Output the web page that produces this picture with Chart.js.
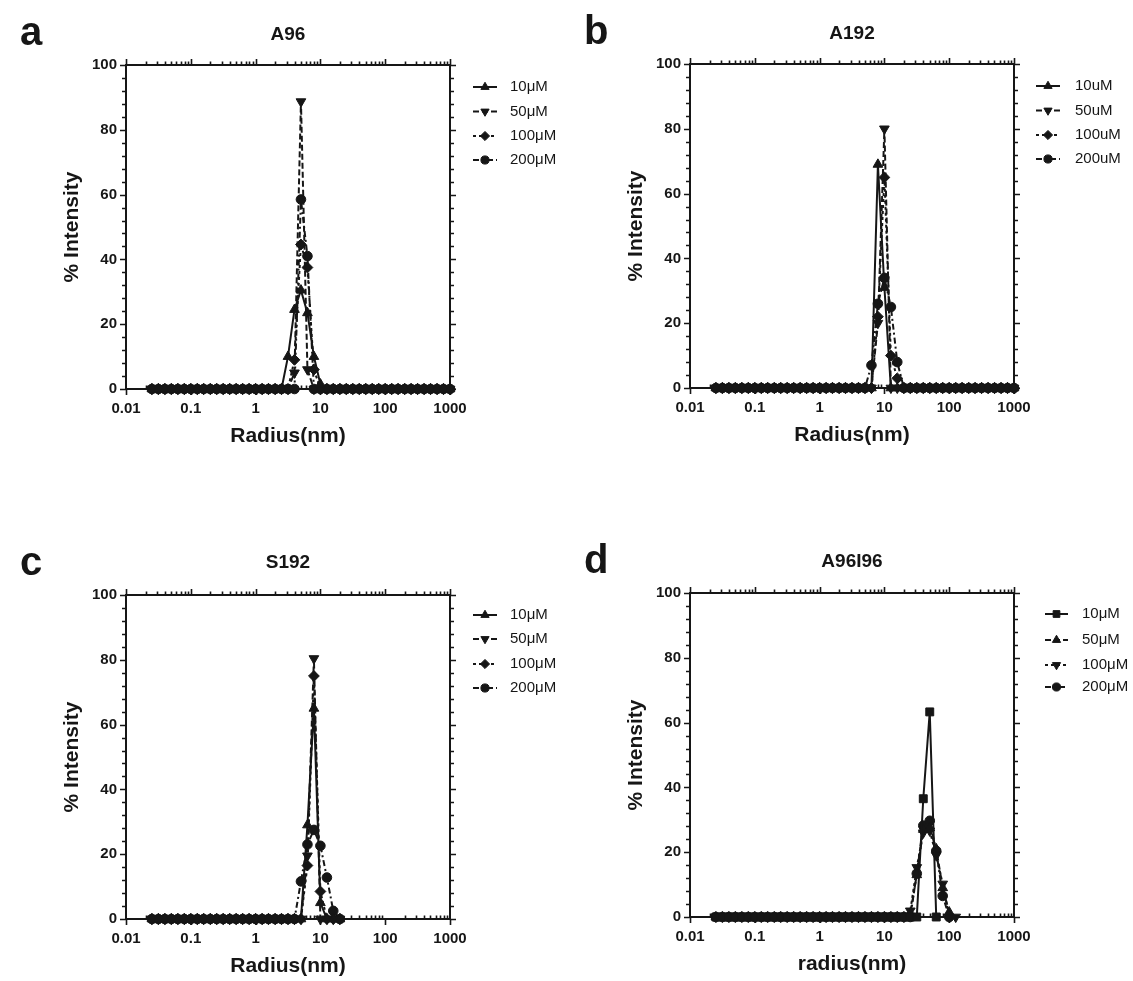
<!DOCTYPE html>
<html><head><meta charset="utf-8">
<script src="https://cdn.jsdelivr.net/npm/chart.js@4.4.0/dist/chart.umd.min.js"></script>
<style>
html,body{margin:0;padding:0;background:#fff;}
#wrap{position:relative;width:1133px;height:981px;overflow:hidden;background:#fff;}
.panel{position:absolute;width:566px;height:490px;}
canvas{display:block;}
</style></head><body>
<div id="wrap">
<div class="panel" style="left:0px;top:0px"><canvas id="ca" width="566" height="490"></canvas></div>
<div class="panel" style="left:564px;top:-1px"><canvas id="cb" width="566" height="490"></canvas></div>
<div class="panel" style="left:0px;top:530px"><canvas id="cc" width="566" height="490"></canvas></div>
<div class="panel" style="left:564px;top:528px"><canvas id="cd" width="566" height="490"></canvas></div>
</div>
<script>
// ---- data ----
const RADIUS = [0.0251,0.0316,0.0398,0.0501,0.0631,0.0794,0.1,0.126,0.158,0.2,
  0.251,0.316,0.398,0.501,0.631,0.794,1,1.26,1.58,2.0,
  2.51,3.16,3.98,5.01,6.31,7.94,10,12.6,15.8,20,
  25.1,31.6,39.8,50.1,63.1,79.4,100,126,158,200,
  251,316,398,501,631,794,1000];
const X_TICKS = [0.01,0.1,1,10,100,1000];
const X_TICK_LABELS = ['0.01','0.1','1','10','100','1000'];
const Y_TICKS = [0,20,40,60,80,100];

// Panel a: A96
const A96_10 = [0,0,0,0,0,0,0,0,0,0, 0,0,0,0,0,0,0,0,0,0,
  0,10,24.5,30.5,23.5,10,1.5,0,0,0, 0,0,0,0,0,0,0,0,0,0, 0,0,0,0,0,0,0];
const A96_50 = [0,0,0,0,0,0,0,0,0,0, 0,0,0,0,0,0,0,0,0,0,
  0,0,5,88.7,6,0,0,0,0,0, 0,0,0,0,0,0,0,0,0,0, 0,0,0,0,0,0,0];
const A96_100 = [0,0,0,0,0,0,0,0,0,0, 0,0,0,0,0,0,0,0,0,0,
  0,0,9,44.6,37.5,6,0,0,0,0, 0,0,0,0,0,0,0,0,0,0, 0,0,0,0,0,0,0];
const A96_200 = [0,0,0,0,0,0,0,0,0,0, 0,0,0,0,0,0,0,0,0,0,
  0,0,0,58.5,41,0,0,0,0,0, 0,0,0,0,0,0,0,0,0,0, 0,0,0,0,0,0,0];

// Panel b: A192
const A192_10 = [0,0,0,0,0,0,0,0,0,0, 0,0,0,0,0,0,0,0,0,0,
  0,0,0,0,0,69,31,0,0,0, 0,0,0,0,0,0,0,0,0,0, 0,0,0,0,0,0,0];
const A192_50 = [0,0,0,0,0,0,0,0,0,0, 0,0,0,0,0,0,0,0,0,0,
  0,0,0,0,0,20,80,0,0,0, 0,0,0,0,0,0,0,0,0,0, 0,0,0,0,0,0,0];
const A192_100 = [0,0,0,0,0,0,0,0,0,0, 0,0,0,0,0,0,0,0,0,0,
  0,0,0,0,0,22,65,10,3,0, 0,0,0,0,0,0,0,0,0,0, 0,0,0,0,0,0,0];
const A192_200 = [0,0,0,0,0,0,0,0,0,0, 0,0,0,0,0,0,0,0,0,0,
  0,0,0,0,7,26,34,25,8,0, 0,0,0,0,0,0,0,0,0,0, 0,0,0,0,0,0,0];

// Panel c: S192
const S192_10 = [0,0,0,0,0,0,0,0,0,0, 0,0,0,0,0,0,0,0,0,0,
  0,0,0,0,29,65,5,0,0,0];
const S192_50 = [0,0,0,0,0,0,0,0,0,0, 0,0,0,0,0,0,0,0,0,0,
  0,0,0,0,19.5,80.4,0,0,0,0];
const S192_100 = [0,0,0,0,0,0,0,0,0,0, 0,0,0,0,0,0,0,0,0,0,
  0,0,0,0,16.5,75,8.5,0,0,0];
const S192_200 = [0,0,0,0,0,0,0,0,0,0, 0,0,0,0,0,0,0,0,0,0,
  0,0,0,11.6,23,27.5,22.6,12.8,2.5,0];

// Panel d: A96I96
const A96I96_10 = [0,0,0,0,0,0,0,0,0,0, 0,0,0,0,0,0,0,0,0,0, 0,0,0,0,0,0,0,0,0,0,
  0,0,36.5,63.3,0];
const A96I96_50 = [0,0,0,0,0,0,0,0,0,0, 0,0,0,0,0,0,0,0,0,0, 0,0,0,0,0,0,0,0,0,0,
  1,13,27,27.5,21,9,1.5];
const A96I96_100 = [0,0,0,0,0,0,0,0,0,0, 0,0,0,0,0,0,0,0,0,0, 0,0,0,0,0,0,0,0,0,0,
  1.9,15.3,26,26.6,19,10.2,0,0];
const A96I96_200 = [0,0,0,0,0,0,0,0,0,0, 0,0,0,0,0,0,0,0,0,0, 0,0,0,0,0,0,0,0,0,0,
  0,13.4,28.2,29.7,20.4,6.5,0];

const LABELS_MU = ['10\u03bcM','50\u03bcM','100\u03bcM','200\u03bcM'];
const LABELS_U = ['10uM','50uM','100uM','200uM'];

// ---- styles ----
const FONT = "'Liberation Sans', Arial, Helvetica, sans-serif";
const INK = '#161616';
const DASHES = [[], [6,3], [3,3], [6,3,2,3]];
const MARKS_ABC = [['triangle',0],['triangle',180],['rectRot',0],['circle',0]];
const MARKS_D = [['rect',0],['triangle',0],['triangle',180],['circle',0]];
const MARK_R = {triangle: 5.6, rectRot: 5.4, circle: 4.8, rect: 5.6};

function marker(ctx, style, rot, x, y, r) {
  ctx.beginPath();
  const a = (rot || 0) * Math.PI / 180;
  if (style === 'circle') ctx.arc(x, y, r, 0, 2 * Math.PI);
  else if (style === 'triangle') {
    for (let j = 0; j < 3; j++) {
      const t = a + j * 2 * Math.PI / 3;
      const px = x + Math.sin(t) * r, py = y - Math.cos(t) * r;
      if (j) ctx.lineTo(px, py); else ctx.moveTo(px, py);
    }
  } else if (style === 'rectRot') {
    ctx.moveTo(x - r, y); ctx.lineTo(x, y - r); ctx.lineTo(x + r, y); ctx.lineTo(x, y + r);
  } else if (style === 'rect') {
    const s = r * Math.SQRT1_2; ctx.rect(x - s, y - s, 2 * s, 2 * s);
  }
  ctx.closePath(); ctx.fill(); ctx.stroke();
}

const framePlugin = {
  id: 'frame',
  beforeDatasetsDraw(chart) {
    const {ctx, chartArea: {left, right, top, bottom}, scales: {x, y}} = chart;
    ctx.save();
    ctx.strokeStyle = INK; ctx.lineWidth = 2; ctx.setLineDash([]);
    ctx.strokeRect(left, top, right - left, bottom - top);
    ctx.lineWidth = 1.6;
    ctx.beginPath();
    // y ticks (left + right)
    for (let v = 0; v <= 100; v += 4) {
      const p = Math.round(y.getPixelForValue(v)) + 0.5;
      const L = (v % 20 === 0) ? 6 : 4;
      ctx.moveTo(left - L, p); ctx.lineTo(left, p);
      ctx.moveTo(right, p); ctx.lineTo(right + L, p);
    }
    // x ticks (top + bottom)
    for (let d = 0.01; d < 1000; d *= 10) {
      for (let m = 1; m <= 10; m++) {
        const v = m * d;
        const p = Math.round(x.getPixelForValue(v)) + 0.5;
        if (m === 1 || m === 10) {
          ctx.moveTo(p, top - 6); ctx.lineTo(p, top);
          ctx.moveTo(p, bottom); ctx.lineTo(p, bottom + 6);
        } else {
          ctx.moveTo(p, top - 3.5); ctx.lineTo(p, top);
          ctx.moveTo(p, bottom); ctx.lineTo(p, bottom - 3.5);
        }
      }
    }
    ctx.stroke();
    ctx.restore();
  }
};

const decoPlugin = {
  id: 'deco',
  afterDraw(chart, args, opts) {
    const {ctx, chartArea: {left, right}} = chart;
    ctx.save();
    ctx.fillStyle = INK; ctx.strokeStyle = INK;
    // panel letter
    ctx.font = 'bold 40px ' + FONT;
    ctx.textAlign = 'left'; ctx.textBaseline = 'alphabetic';
    ctx.fillText(opts.letter, 20, 45);
    // title
    ctx.font = 'bold 19px ' + FONT;
    ctx.textAlign = 'center'; ctx.textBaseline = 'middle';
    ctx.fillText(opts.title, (left + right) / 2, opts.titleY);
    // legend
    const lg = opts.legend;
    chart.data.datasets.forEach((ds, i) => {
      const yy = lg.ys[i];
      ctx.lineWidth = 2;
      ctx.setLineDash(ds.borderDash || []);
      ctx.beginPath(); ctx.moveTo(lg.x0, yy); ctx.lineTo(lg.x1, yy); ctx.stroke();
      ctx.setLineDash([]); ctx.lineWidth = 1;
      marker(ctx, ds.pointStyle, ds.pointRotation, (lg.x0 + lg.x1) / 2, yy, ds.pointRadius * 0.85);
      ctx.font = '15px ' + FONT;
      ctx.textAlign = 'left'; ctx.textBaseline = 'middle';
      ctx.fillText(ds.label, lg.tx, yy);
    });
    ctx.restore();
  }
};

function makePanel(id, letter, title, xTitle, series, labels, marks, legend, titleY) {
  const datasets = series.map((vals, i) => ({
    label: labels[i],
    data: vals.map((v, k) => ({x: RADIUS[k], y: v})),
    borderColor: INK, backgroundColor: INK,
    borderWidth: 2, borderDash: DASHES[i],
    pointStyle: marks[i][0], pointRotation: marks[i][1],
    pointRadius: MARK_R[marks[i][0]],
    pointBackgroundColor: INK, pointBorderColor: INK, pointBorderWidth: 1,
    tension: 0, clip: false, fill: false
  }));
  new Chart(document.getElementById(id), {
    type: 'line',
    data: {datasets},
    plugins: [framePlugin, decoPlugin],
    options: {
      responsive: false, animation: false, events: [],
      layout: {padding: {left: 50, top: 65, right: 116, bottom: 0}},
      plugins: {
        legend: {display: false}, tooltip: {enabled: false}, title: {display: false},
        deco: {letter, title, legend, titleY}
      },
      scales: {
        x: {
          type: 'logarithmic', min: 0.01, max: 1000, position: 'bottom',
          afterBuildTicks: s => { s.ticks = X_TICKS.map(v => ({value: v})); },
          afterFit: s => { s.height = 101; },
          grid: {display: false, drawTicks: false}, border: {display: false},
          ticks: {
            callback: (v, i) => X_TICK_LABELS[i],
            font: {family: FONT, size: 15, weight: 'bold'}, color: INK,
            padding: 11, maxRotation: 0, autoSkip: false
          },
          title: {display: true, text: xTitle, color: INK,
            font: {family: FONT, size: 21, weight: 'bold'}, padding: {top: 0, bottom: 41}}
        },
        y: {
          type: 'linear', min: 0, max: 100,
          afterBuildTicks: s => { s.ticks = Y_TICKS.map(v => ({value: v})); },
          afterFit: s => { s.width = 76; },
          grid: {display: false, drawTicks: false}, border: {display: false},
          ticks: {font: {family: FONT, size: 15, weight: 'bold'}, color: INK, padding: 9},
          title: {display: true, text: '% Intensity', color: INK,
            font: {family: FONT, size: 21, weight: 'bold'}, padding: {top: 10, bottom: 0}}
        }
      }
    }
  });
}

makePanel('ca', 'a', 'A96', 'Radius(nm)', [A96_10, A96_50, A96_100, A96_200], LABELS_MU, MARKS_ABC,
  {x0: 473, x1: 497, tx: 510, ys: [87, 111.5, 136, 160]}, 35);
makePanel('cb', 'b', 'A192', 'Radius(nm)', [A192_10, A192_50, A192_100, A192_200], LABELS_U, MARKS_ABC,
  {x0: 472, x1: 496, tx: 511, ys: [87, 111.5, 136, 160]}, 35);
makePanel('cc', 'c', 'S192', 'Radius(nm)', [S192_10, S192_50, S192_100, S192_200], LABELS_MU, MARKS_ABC,
  {x0: 473, x1: 497, tx: 510, ys: [85, 109, 134, 158]}, 33);
makePanel('cd', 'd', 'A96I96', 'radius(nm)', [A96I96_10, A96I96_50, A96I96_100, A96I96_200], LABELS_MU, MARKS_D,
  {x0: 481, x1: 504, tx: 518, ys: [86, 112, 137, 159]}, 34);
</script>
</body></html>
